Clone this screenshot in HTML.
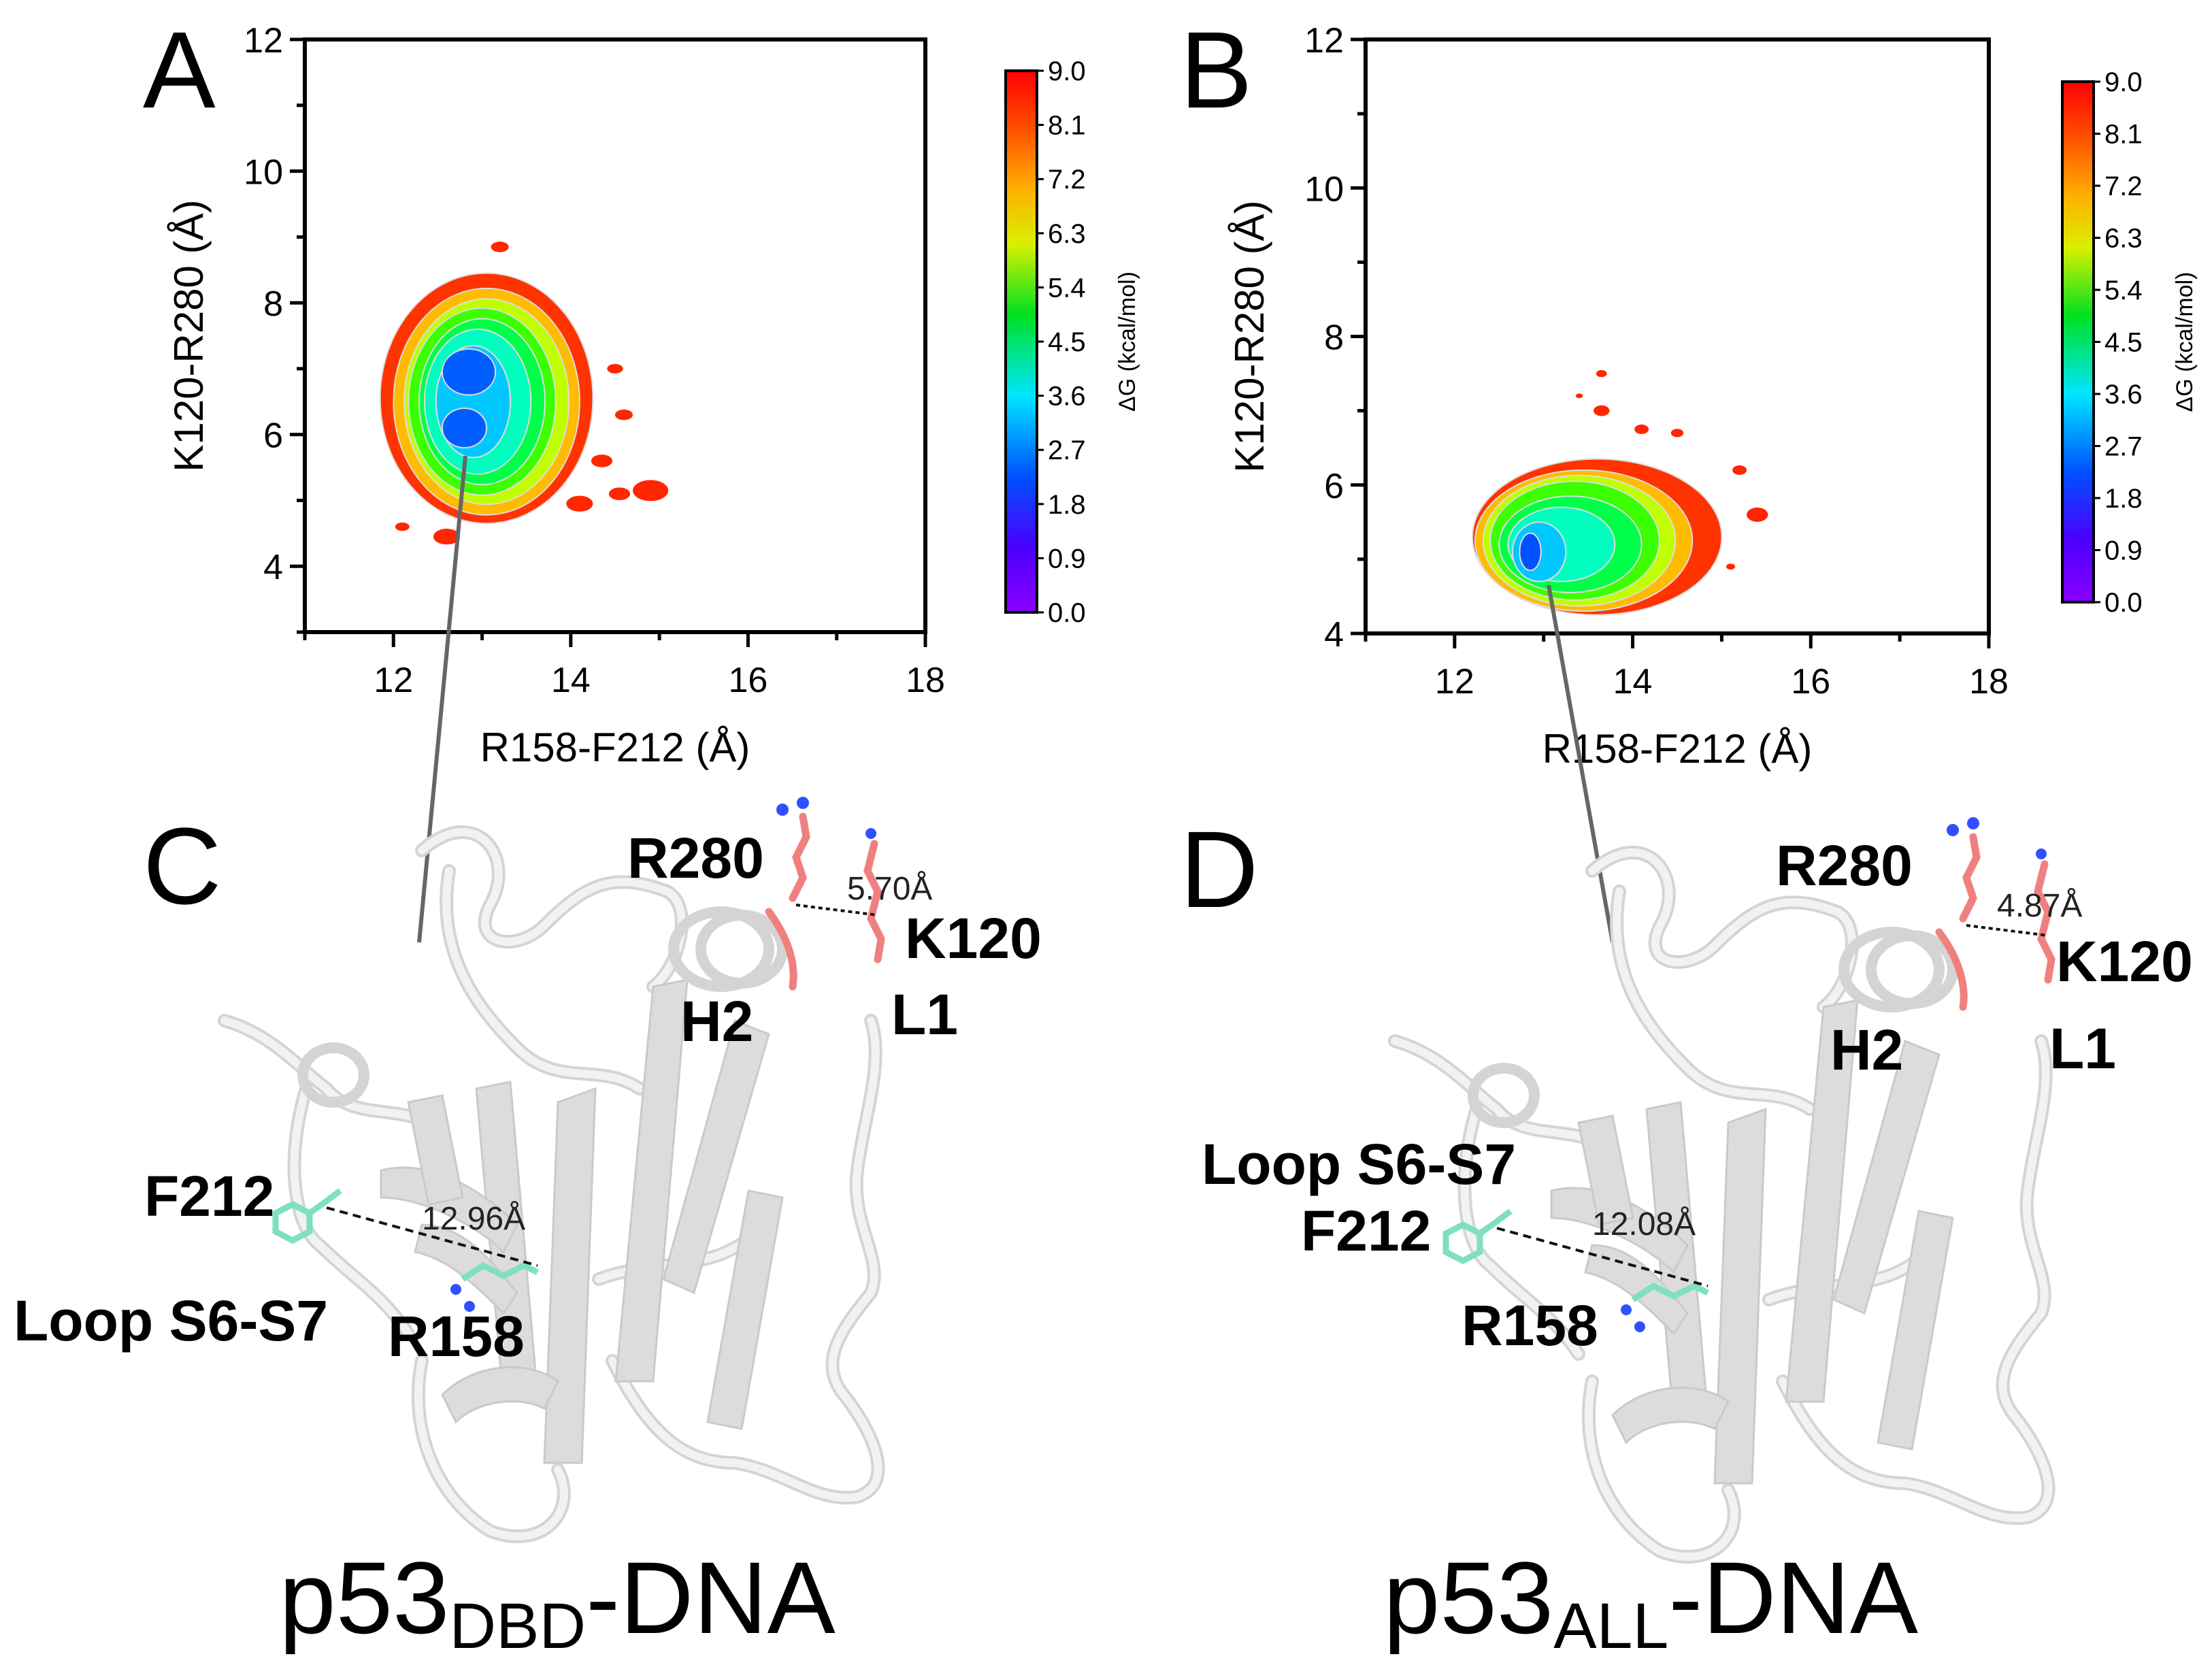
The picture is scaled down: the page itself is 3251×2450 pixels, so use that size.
<!DOCTYPE html>
<html><head><meta charset="utf-8">
<style>
html,body{margin:0;padding:0;background:#fff;}
svg{display:block;}
text{font-family:"Liberation Sans",Arial,sans-serif;}
</style></head>
<body>
<svg id="fig" width="3251" height="2450" viewBox="0 0 3251 2450" xmlns="http://www.w3.org/2000/svg">
<defs>
<linearGradient id="cbar" x1="0" y1="1" x2="0" y2="0">
<stop offset="0" stop-color="#8a00ff"/><stop offset="0.12" stop-color="#4a00ff"/><stop offset="0.25" stop-color="#0050ff"/>
<stop offset="0.4" stop-color="#00e6ff"/><stop offset="0.55" stop-color="#00e020"/><stop offset="0.68" stop-color="#d8f000"/>
<stop offset="0.78" stop-color="#ffb000"/><stop offset="0.9" stop-color="#ff4a00"/><stop offset="1" stop-color="#ff0000"/>
</linearGradient>
<g id="protein">
  <g fill="none" stroke-linecap="round">
    <g stroke="#d4d4d4" stroke-width="20">
      <path d="M620,1250 C700,1180 760,1260 720,1330 C690,1390 760,1400 800,1360 C860,1300 900,1280 980,1310 C1020,1330 1000,1420 960,1450"/>
      <path d="M330,1500 C400,1520 440,1570 480,1600 C520,1650 600,1620 640,1660"/>
      <path d="M450,1600 C420,1700 430,1800 470,1830 C520,1880 560,1900 600,1960"/>
      <path d="M620,2000 C600,2100 640,2200 720,2250 C800,2280 850,2220 820,2160"/>
      <path d="M900,2000 C950,2100 1000,2150 1080,2150 C1150,2160 1200,2210 1260,2200 C1320,2180 1280,2100 1240,2050 C1200,2000 1240,1950 1280,1900 C1300,1850 1250,1800 1260,1720 C1270,1640 1300,1560 1280,1500"/>
      <path d="M660,1280 C640,1400 700,1480 760,1540 C820,1600 880,1560 940,1600"/>
      <path d="M880,1880 C960,1850 1040,1870 1100,1820"/>
    </g>
    <g stroke="#f2f2f2" stroke-width="12">
      <path d="M620,1250 C700,1180 760,1260 720,1330 C690,1390 760,1400 800,1360 C860,1300 900,1280 980,1310 C1020,1330 1000,1420 960,1450"/>
      <path d="M330,1500 C400,1520 440,1570 480,1600 C520,1650 600,1620 640,1660"/>
      <path d="M450,1600 C420,1700 430,1800 470,1830 C520,1880 560,1900 600,1960"/>
      <path d="M620,2000 C600,2100 640,2200 720,2250 C800,2280 850,2220 820,2160"/>
      <path d="M900,2000 C950,2100 1000,2150 1080,2150 C1150,2160 1200,2210 1260,2200 C1320,2180 1280,2100 1240,2050 C1200,2000 1240,1950 1280,1900 C1300,1850 1250,1800 1260,1720 C1270,1640 1300,1560 1280,1500"/>
      <path d="M660,1280 C640,1400 700,1480 760,1540 C820,1600 880,1560 940,1600"/>
      <path d="M880,1880 C960,1850 1040,1870 1100,1820"/>
    </g>
  </g>
  <g fill="#dcdcdc" stroke="#cacaca" stroke-width="3">
    <path d="M820,1620 L875,1600 L855,2150 L800,2150 Z"/>
    <path d="M960,1450 L1010,1440 L960,2030 L905,2030 Z"/>
    <path d="M700,1600 L750,1590 L790,2050 L740,2060 Z"/>
    <path d="M1080,1500 L1130,1520 L1020,1900 L975,1880 Z"/>
    <path d="M1100,1750 L1150,1760 L1090,2100 L1040,2090 Z"/>
    <path d="M560,1720 C640,1700 720,1760 760,1800 L740,1840 C700,1800 620,1760 560,1760 Z"/>
    <path d="M620,1800 C680,1800 720,1850 760,1900 L740,1930 C700,1890 660,1850 610,1840 Z"/>
    <path d="M650,2050 C700,2000 780,2000 820,2030 L800,2070 C760,2050 700,2060 670,2090 Z"/>
    <path d="M600,1620 L650,1610 L680,1760 L630,1770 Z"/>
  </g>
  <g fill="none" stroke="#d4d4d4" stroke-width="16">
    <ellipse cx="1060" cy="1395" rx="70" ry="55"/>
    <ellipse cx="1090" cy="1395" rx="60" ry="50"/>
    <ellipse cx="490" cy="1580" rx="45" ry="40"/>
  </g>
  <g fill="none" stroke="#f08080" stroke-width="11" stroke-linecap="round">
    <path d="M1130,1340 C1160,1380 1170,1420 1165,1450"/>
    <path d="M1165,1320 L1180,1290 L1170,1260 L1185,1230 L1180,1200"/>
    <path d="M1285,1240 L1275,1280 L1290,1310 L1280,1350 L1295,1380 L1290,1410"/>
  </g>
  <g fill="#3050ff"><circle cx="1150" cy="1190" r="9"/><circle cx="1180" cy="1180" r="9"/><circle cx="1280" cy="1225" r="8"/></g>
  <path d="M1170,1330 L1290,1345" stroke="#111" stroke-width="4" stroke-dasharray="6,5"/>
  <g fill="none" stroke="#7fe0c0" stroke-width="9">
    <polygon points="430,1770 455,1783 455,1810 430,1823 405,1810 405,1783"/>
    <path d="M455,1783 L480,1765 L500,1750"/>
    <path d="M680,1880 L710,1860 L740,1875 L770,1860 L790,1870"/>
  </g>
  <g fill="#3050ff"><circle cx="670" cy="1895" r="8"/><circle cx="690" cy="1920" r="8"/></g>
  <path d="M480,1775 L790,1860" stroke="#111" stroke-width="4" stroke-dasharray="12,8"/>
</g>
</defs>

<g id="panelA"></g>
<g id="panelB"></g>

<text x="210" y="158" font-size="160">A</text>
<text x="1734" y="158" font-size="160">B</text>

<line x1="684" y1="670" x2="616" y2="1385" stroke="#666" stroke-width="6"/>
<line x1="2276" y1="860" x2="2370" y2="1385" stroke="#666" stroke-width="6"/>

<g>
  <use href="#protein"/>
</g>
<g>
  <use href="#protein" transform="translate(1720,30)"/>
</g>
<text x="210" y="1328" font-size="160">C</text>
<text x="1734" y="1333" font-size="160">D</text>

<g font-weight="bold" font-size="84" fill="#000">
  <text x="922" y="1290">R280</text>
  <text x="1330" y="1408">K120</text>
  <text x="1000" y="1530">H2</text>
  <text x="1310" y="1520">L1</text>
  <text x="212" y="1787">F212</text>
  <text x="20" y="1970">Loop S6-S7</text>
  <text x="570" y="1993">R158</text>

  <text x="2610" y="1301">R280</text>
  <text x="3022" y="1442">K120</text>
  <text x="2690" y="1572">H2</text>
  <text x="3012" y="1570">L1</text>
  <text x="1766" y="1740">Loop S6-S7</text>
  <text x="1912" y="1838">F212</text>
  <text x="2148" y="1977">R158</text>
</g>
<g font-size="48" fill="#222">
  <text x="1245" y="1322">5.70Å</text>
  <text x="620" y="1807">12.96Å</text>
  <text x="2935" y="1347">4.87Å</text>
  <text x="2340" y="1815">12.08Å</text>
</g>
<text x="819" y="2400" font-size="150" text-anchor="middle">p53<tspan font-size="95" dy="22">DBD</tspan><tspan dy="-22">-DNA</tspan></text>
<text x="2426" y="2400" font-size="150" text-anchor="middle">p53<tspan font-size="95" dy="22">ALL</tspan><tspan dy="-22">-DNA</tspan></text>
</svg>

<script>
// ---- data ----
const xTicks = [12, 14, 16, 18];
const yTicksA = [4, 6, 8, 10, 12];
const yTicksB = [4, 6, 8, 10, 12];
const cbarTicks = ["0.0","0.9","1.8","2.7","3.6","4.5","5.4","6.3","7.2","8.1","9.0"];
// contour levels (ΔG) as nested ellipses: center x, center y, radius x, radius y (Å)
const levelsA = [8.6, 7.6, 6.6, 5.6, 4.6, 3.7, 2.8, 2.0, 2.0];
const cxA = [13.05, 13.05, 13.05, 13.0, 13.0, 12.95, 12.9, 12.85, 12.8];
const cyA = [6.55, 6.5, 6.5, 6.5, 6.5, 6.5, 6.5, 6.95, 6.1];
const rxA = [1.2, 1.05, 0.93, 0.83, 0.71, 0.6, 0.42, 0.3, 0.25];
const ryA = [1.9, 1.72, 1.56, 1.42, 1.26, 1.1, 0.85, 0.35, 0.3];
const islXA = [14.9, 14.55, 14.6, 14.5, 13.2, 12.6, 12.1, 14.1, 14.35];
const islYA = [5.15, 5.1, 6.3, 7.0, 8.85, 4.45, 4.6, 4.95, 5.6];
const islRA = [0.2, 0.12, 0.1, 0.09, 0.1, 0.15, 0.08, 0.15, 0.12];

const levelsB = [8.6, 7.6, 6.6, 5.6, 4.6, 3.7, 2.8, 1.9];
const cxB = [13.6, 13.45, 13.4, 13.35, 13.3, 13.2, 12.95, 12.85];
const cyB = [5.3, 5.25, 5.25, 5.25, 5.2, 5.2, 5.1, 5.1];
const rxB = [1.4, 1.22, 1.08, 0.95, 0.8, 0.6, 0.3, 0.12];
const ryB = [1.05, 0.95, 0.88, 0.8, 0.65, 0.5, 0.4, 0.25];
const islXB = [13.65, 13.65, 14.1, 15.2, 15.4, 15.1, 14.5, 13.4];
const islYB = [7.5, 7.0, 6.75, 6.2, 5.6, 4.9, 6.7, 7.2];
const islRB = [0.06, 0.09, 0.08, 0.08, 0.12, 0.05, 0.07, 0.04];

const NS = "http://www.w3.org/2000/svg";
function mk(tag, attrs, parent){ const e=document.createElementNS(NS,tag); for(const k in attrs) e.setAttribute(k,attrs[k]); parent.appendChild(e); return e; }
function color(v){ const h = 280*(1 - v/9); return "hsl("+h.toFixed(0)+",100%,50%)"; }

function panel(g, box, yMin, yMax, yTicks, lv, cx, cy, rx, ry, ix, iy, ir, cb){
  const X = v => box.l + (v-11)/(18-11)*(box.r-box.l);
  const Y = v => box.b - (v-yMin)/(yMax-yMin)*(box.b-box.t);
  const sx = (box.r-box.l)/7, sy = (box.b-box.t)/(yMax-yMin);
  for(let i=0;i<ix.length;i++){
    const e = mk("ellipse",{cx:X(ix[i]),cy:Y(iy[i]),rx:ir[i]*sx,ry:ir[i]*sy*0.8,fill:color(8.7)},g);
    
    
  }
  for(let i=0;i<lv.length;i++){
    const e = mk("ellipse",{cx:X(cx[i]),cy:Y(cy[i]),rx:rx[i]*sx,ry:ry[i]*sy,fill:color(lv[i]),stroke:"#ddd","stroke-width":2},g);
    
    
  }
  const f = mk("rect",{x:box.l,y:box.t,width:box.r-box.l,height:box.b-box.t,fill:"none",stroke:"#000","stroke-width":6},g);
  
  
  for(let v=11; v<=18; v++){
    const major = xTicks.includes(v);
    mk("line",{x1:X(v),x2:X(v),y1:box.b,y2:box.b+(major?22:12),stroke:"#000","stroke-width":5},g);
  }
  xTicks.forEach(v=>{
    const t = mk("text",{x:X(v),y:box.b+88,"font-size":52,"text-anchor":"middle"},g);
    t.textContent = v;
    
    
  });
  for(let v=Math.ceil(yMin); v<=yMax; v++){
    const major = yTicks.includes(v);
    mk("line",{x1:box.l,x2:box.l-(major?22:12),y1:Y(v),y2:Y(v),stroke:"#000","stroke-width":5},g);
  }
  yTicks.forEach(v=>{
    const t = mk("text",{x:box.l-32,y:Y(v)+19,"font-size":52,"text-anchor":"end"},g);
    t.textContent = v;
    
    
  });
  const xt = mk("text",{x:(box.l+box.r)/2,y:box.b+190,"font-size":60,"text-anchor":"middle"},g);
  xt.textContent = "R158-F212 (Å)";
  
  
  const yt = mk("text",{x:0,y:0,"font-size":60,"text-anchor":"middle",transform:"translate("+(box.l-150)+","+((box.t+box.b)/2)+") rotate(-90)"},g);
  yt.textContent = "K120-R280 (Å)";
  
  
  const r = mk("rect",{x:cb.x,y:cb.t,width:cb.w,height:cb.b-cb.t,fill:"url(#cbar)",stroke:"#000","stroke-width":4},g);
  
  
  cbarTicks.forEach((s,i)=>{
    const y = cb.b - i/(cbarTicks.length-1)*(cb.b-cb.t);
    mk("line",{x1:cb.x+cb.w,x2:cb.x+cb.w+10,y1:y,y2:y,stroke:"#000","stroke-width":3},g);
    const t = mk("text",{x:cb.x+cb.w+16,y:y+14,"font-size":40},g);
    t.textContent = s;
    
    
  });
  const ct = mk("text",{x:0,y:0,"font-size":34,"text-anchor":"middle",transform:"translate("+cb.lx+","+((cb.t+cb.b)/2)+") rotate(-90)"},g);
  ct.textContent = "ΔG (kcal/mol)";
  
  
}
panel(document.getElementById("panelA"), {l:448,r:1360,t:58,b:929}, 3, 12, yTicksA,
  levelsA,cxA,cyA,rxA,ryA,islXA,islYA,islRA, {x:1478,w:46,t:104,b:900,lx:1668});
panel(document.getElementById("panelB"), {l:2007,r:2923,t:58,b:931}, 4, 12, yTicksB,
  levelsB,cxB,cyB,rxB,ryB,islXB,islYB,islRB, {x:3031,w:46,t:120,b:885,lx:3222});
</script>
</body></html>
